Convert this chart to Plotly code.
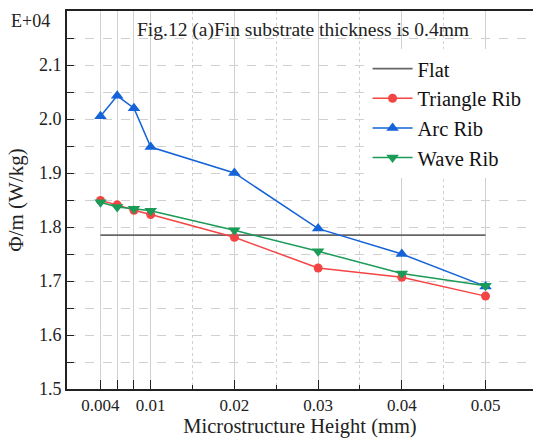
import plotly.graph_objects as go

# Microstructure heights (mm) and specific heat flux (x1e4 W/kg)
heights = [0.004, 0.006, 0.008, 0.01, 0.02, 0.03, 0.04, 0.05]
flat_x = [0.004, 0.05]
flat = [1.785, 1.785]
triangle_rib = [1.849, 1.841, 1.831, 1.823, 1.781, 1.724, 1.707, 1.672]
arc_rib = [2.005, 2.043, 2.020, 1.948, 1.900, 1.797, 1.750, 1.690]
wave_rib = [1.846, 1.837, 1.834, 1.830, 1.794, 1.755, 1.714, 1.691]

x_major = [0.004, 0.006, 0.008, 0.01, 0.02, 0.03, 0.04, 0.05]
x_labels = ["0.004", "", "", "0.01", "0.02", "0.03", "0.04", "0.05"]
x_minor = [0.015, 0.025, 0.035, 0.045]
y_major = [1.5, 1.6, 1.7, 1.8, 1.9, 2.0, 2.1, 2.2]
y_labels = ["1.5", "1.6", "1.7", "1.8", "1.9", "2.0", "2.1", ""]

FONT = "Liberation Serif"
RED = "#f44444"
BLUE = "#1563d8"
GREEN = "#1a9b57"

fig = go.Figure()
fig.add_trace(go.Scatter(x=flat_x, y=flat, mode="lines", name="Flat",
                         line=dict(color="#666666", width=1.8)))
fig.add_trace(go.Scatter(x=heights, y=triangle_rib, mode="lines+markers", name="Triangle Rib",
                         line=dict(color=RED, width=1.5),
                         marker=dict(symbol="circle", size=9, color=RED)))
fig.add_trace(go.Scatter(x=heights, y=arc_rib, mode="lines+markers", name="Arc Rib",
                         line=dict(color=BLUE, width=1.5),
                         marker=dict(symbol="triangle-up", size=11, color=BLUE)))
fig.add_trace(go.Scatter(x=heights, y=wave_rib, mode="lines+markers", name="Wave Rib",
                         line=dict(color=GREEN, width=1.5),
                         marker=dict(symbol="triangle-down", size=11, color=GREEN)))

fig.update_layout(
    template="none",
    width=533, height=438,
    margin=dict(l=67, r=0, t=11, b=49),
    paper_bgcolor="white", plot_bgcolor="white",
    font=dict(family=FONT, size=17, color="#222222"),
    showlegend=True,
    legend=dict(x=0.645, y=0.9, xanchor="left", yanchor="top",
                bgcolor="white", borderwidth=0,
                font=dict(family=FONT, size=20.5, color="#111111"),
                itemwidth=40, tracegroupgap=0),
    xaxis=dict(
        range=[0, 0.05567],
        tickmode="array", tickvals=x_major, ticktext=x_labels,
        ticks="inside", ticklen=9, tickwidth=1.3, tickcolor="#222222",
        showline=True, linecolor="#222222", linewidth=1.8, mirror=True,
        showgrid=True, gridcolor="#d0d0d0", gridwidth=1, griddash="solid",
        zeroline=False,
        minor=dict(tickvals=x_minor, ticks="inside", ticklen=4, tickcolor="#222222",
                   showgrid=True, gridcolor="#d0d0d0", griddash="dot", gridwidth=1),
        title=dict(text="Microstructure Height (mm)",
                   font=dict(family=FONT, size=20.5, color="#222222"), standoff=7),
        tickfont=dict(family=FONT, size=17, color="#222222"),
    ),
    yaxis=dict(
        range=[1.5, 2.2],
        tickmode="array", tickvals=y_major, ticktext=y_labels,
        ticks="inside", ticklen=7, tickwidth=1.3, tickcolor="#222222",
        showline=True, linecolor="#222222", linewidth=1.8, mirror=False,
        showgrid=True, gridcolor="#d0d0d0", gridwidth=1, griddash="dash",
        zeroline=False,
        minor=dict(dtick=0.05, tick0=1.5, ticks="inside", ticklen=7, tickcolor="#222222",
                   showgrid=True, gridcolor="#d0d0d0", griddash="dash", gridwidth=1),
        title=dict(text="Φ/m (W/kg)",
                   font=dict(family=FONT, size=21, color="#222222"), standoff=10),
        tickfont=dict(family=FONT, size=18, color="#222222"),
    ),
    annotations=[
        dict(text="Fig.12 (a)Fin substrate thickness is 0.4mm", xref="paper", yref="paper",
             x=0.145, y=0.95, xanchor="left", yanchor="middle", showarrow=False,
             font=dict(family=FONT, size=19.5, color="#222222")),
        dict(text="E+04", xref="paper", yref="paper", x=-0.032, y=0.974,
             xanchor="right", yanchor="middle", showarrow=False,
             font=dict(family=FONT, size=18, color="#222222")),
    ],
)

fig.write_html("out.html")
